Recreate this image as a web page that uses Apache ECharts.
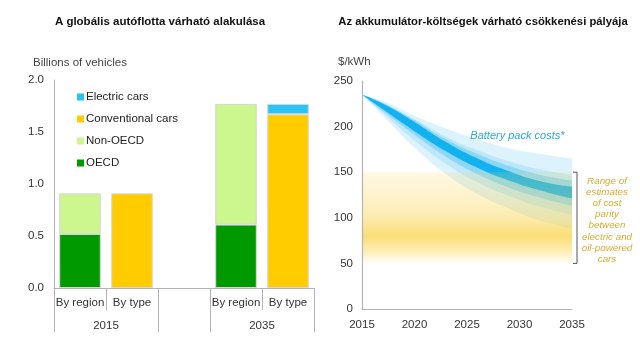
<!DOCTYPE html>
<html><head><meta charset="utf-8">
<script src="https://cdn.jsdelivr.net/npm/echarts@6/dist/echarts.min.js"></script>
<style>html,body{margin:0;padding:0;background:#fff}#c{width:640px;height:349px}</style>
</head><body><div id="c"></div>
<script>
// ---- Left chart data (billions of vehicles)
const barCats = ['By region', 'By type', '', 'By region', 'By type'];
const groupLabels = ['2015', '2035'];
const oecd = [0.52, null, null, 0.61, null];
const nonOecd = [0.39, null, null, 1.16, null];
const conventional = [null, 0.91, null, null, 1.67];
const electric = [null, null, null, null, 0.10];

// ---- Right chart data ($/kWh), fan boundaries from top to bottom
const years = [2015, 2017, 2020, 2023, 2026, 2029, 2032, 2035];
const fanHigh = [235, 228, 212, 198, 186, 176, 170, 165];
const fanL6   = [235, 226, 208, 189, 174, 162, 153, 147];
const fanL5   = [235, 226, 207, 186, 170, 157, 147, 141];
const coreHigh= [235, 225, 205, 183, 165, 151, 140, 134];
const coreLow = [235, 219, 195, 173, 155, 141, 130, 121];
const fanL2   = [235, 217, 191, 167, 148, 133, 122, 113];
const fanL1   = [235, 215, 185, 159, 139, 124, 112, 103];
const fanLow  = [235, 212, 177, 148, 126, 110, 97, 88];
const parityRange = [50, 150];
const parityYears = [2015, 2035];

const FONT = 'Liberation Sans, Arial, sans-serif';
const AX = '#b4b4b4';
const TXT = '#333';

const chart = echarts.init(document.getElementById('c'), null, {renderer: 'canvas'});

// each boundary fills down to the axis; the next one (drawn later) covers the rest
const bounds = [fanHigh, fanL6, fanL5, coreHigh, coreLow, fanL2, fanL1, fanLow];
const fills = ['#dcf2fc', '#bee8fa', '#8cd7f6', '#12b2f0', '#8cd7f6', '#bee8fa', '#dcf2fc', '#ffffff'];
const fanSeries = bounds.map((b, k) => ({
  type: 'line', xAxisIndex: 2, yAxisIndex: 1, symbol: 'none',
  smooth: 0.5, silent: true, z: 2,
  lineStyle: {opacity: 0, width: 0},
  areaStyle: {color: fills[k], opacity: 1, origin: 'start'},
  data: years.map((y, i) => [y, b[i]])
}));

const barBase = {type: 'bar', stack: 'a', xAxisIndex: 0, yAxisIndex: 0, barWidth: '80%'};
const barItem = c => ({color: c, borderColor: '#d8d8d8', borderWidth: 1});

const option = {
  animation: false,
  textStyle: {fontFamily: FONT},
  title: [
    {text: 'A globális autóflotta várható alakulása', left: 155, top: 11, textAlign: 'center',
      textStyle: {fontSize: 11.5, fontWeight: 'bold', color: '#111', fontFamily: FONT}},
    {text: 'Az akkumulátor-költségek várható csökkenési pályája', left: 478, top: 11, textAlign: 'center',
      textStyle: {fontSize: 11.3, fontWeight: 'bold', color: '#111', fontFamily: FONT}},
    {text: 'Billions of vehicles', left: 28, top: 52,
      textStyle: {fontSize: 11.5, fontWeight: 'normal', color: '#444', fontFamily: FONT}},
    {text: '$/kWh', left: 333, top: 51,
      textStyle: {fontSize: 11.5, fontWeight: 'normal', color: '#444', fontFamily: FONT}}
  ],
  legend: {
    orient: 'vertical', left: 72, top: 86, itemWidth: 7, itemHeight: 7, itemGap: 10,
    icon: 'rect', selectedMode: false,
    itemStyle: {borderWidth: 0},
    data: ['Electric cars', 'Conventional cars', 'Non-OECD', 'OECD'],
    textStyle: {fontSize: 11.5, color: '#222', fontFamily: FONT, padding: [0, 0, 0, -3]}
  },
  grid: [
    {left: 54, right: 326, top: 80, bottom: 61},
    {left: 362, right: 68, top: 81, bottom: 40}
  ],
  xAxis: [
    {type: 'category', gridIndex: 0, data: barCats, boundaryGap: true,
      axisLine: {lineStyle: {color: AX}},
      axisTick: {show: true, length: 22, lineStyle: {color: AX}},
      axisLabel: {margin: 9, fontSize: 11.5, color: TXT, interval: 0}},
    {type: 'value', gridIndex: 0, min: 0, max: 5, position: 'bottom', offset: 22,
      axisLine: {show: false}, splitLine: {show: false},
      axisTick: {show: true, length: 22, customValues: [0, 2, 3, 5], lineStyle: {color: AX}},
      axisLabel: {margin: 10, fontSize: 11.5, color: TXT, customValues: [1, 4],
        formatter: v => (v === 1 ? groupLabels[0] : groupLabels[1])}},
    {type: 'value', gridIndex: 1, min: 2015, max: 2035, interval: 5, z: 10,
      axisLine: {lineStyle: {color: AX, width: 1.2}}, axisTick: {show: false}, splitLine: {show: false},
      axisLabel: {margin: 10, fontSize: 11.5, color: TXT, formatter: v => String(v)}}
  ],
  yAxis: [
    {type: 'value', gridIndex: 0, min: 0, max: 2, interval: 0.5,
      axisLine: {show: true, lineStyle: {color: AX}}, axisTick: {show: false}, splitLine: {show: false},
      axisLabel: {margin: 10, fontSize: 11.5, color: TXT, formatter: v => v.toFixed(1)}},
    {type: 'value', gridIndex: 1, min: 0, max: 250, interval: 50, z: 10,
      axisLine: {show: true, lineStyle: {color: AX, width: 1.2}}, axisTick: {show: false}, splitLine: {show: false},
      axisLabel: {margin: 9, fontSize: 11.5, color: TXT}}
  ],
  series: [
    Object.assign({}, barBase, {name: 'OECD', data: oecd, itemStyle: barItem('#009a00')}),
    Object.assign({}, barBase, {name: 'Non-OECD', data: nonOecd, itemStyle: barItem('#ccf68e')}),
    Object.assign({}, barBase, {name: 'Conventional cars', data: conventional, itemStyle: barItem('#ffcc00')}),
    Object.assign({}, barBase, {name: 'Electric cars', data: electric, itemStyle: barItem('#29c4f5')}),
    ...fanSeries,
    {type: 'line', xAxisIndex: 2, yAxisIndex: 1, symbol: 'none', silent: true, z: 5,
      lineStyle: {opacity: 0, width: 0},
      data: parityYears.map(y => [y, parityRange[0]]),
      markArea: {silent: true, z: 6,
        itemStyle: {color: new echarts.graphic.LinearGradient(0, 0, 0, 1, [
          {offset: 0, color: 'rgba(250,214,85,0.16)'},
          {offset: 0.3, color: 'rgba(250,214,85,0.32)'},
          {offset: 0.5, color: 'rgba(250,214,85,0.48)'},
          {offset: 0.7, color: 'rgba(250,214,85,0.80)'},
          {offset: 0.86, color: 'rgba(250,214,85,0.45)'},
          {offset: 1, color: 'rgba(250,214,85,0.04)'}
        ])},
        data: [[{coord: [parityYears[0], parityRange[1]]}, {coord: [parityYears[1], parityRange[0]]}]]
      }}
  ]
};
chart.setOption(option);

// annotations placed from data coordinates
const pTop = chart.convertToPixel({gridIndex: 1}, [parityYears[1], parityRange[1]]);
const pBot = chart.convertToPixel({gridIndex: 1}, [parityYears[1], parityRange[0]]);
const bx = pTop[0] + 5;
const pLbl = chart.convertToPixel({gridIndex: 1}, [2029.8, 190]);
chart.setOption({
  graphic: [
    {type: 'polyline', silent: true, z: 10,
      shape: {points: [[bx - 4, pTop[1]], [bx, pTop[1]], [bx, pBot[1]], [bx - 4, pBot[1]]]},
      style: {stroke: '#555', lineWidth: 1, fill: null}},
    {type: 'text', silent: true, z: 10, x: bx + 30, y: pTop[1] + 3,
      style: {text: 'Range of\nestimates\nof cost\nparity\nbetween\nelectric and\noil-powered\ncars',
        align: 'center', verticalAlign: 'top', lineHeight: 11.2, fontSize: 9.8, fontStyle: 'italic',
        fontFamily: FONT, fill: '#d6ad30'}},
    {type: 'text', silent: true, z: 10, x: pLbl[0], y: pLbl[1],
      style: {text: 'Battery pack costs*', align: 'center', verticalAlign: 'middle', fontSize: 11,
        fontStyle: 'italic', fontFamily: FONT, fill: '#2aa8e0'}}
  ]
});
</script></body></html>
